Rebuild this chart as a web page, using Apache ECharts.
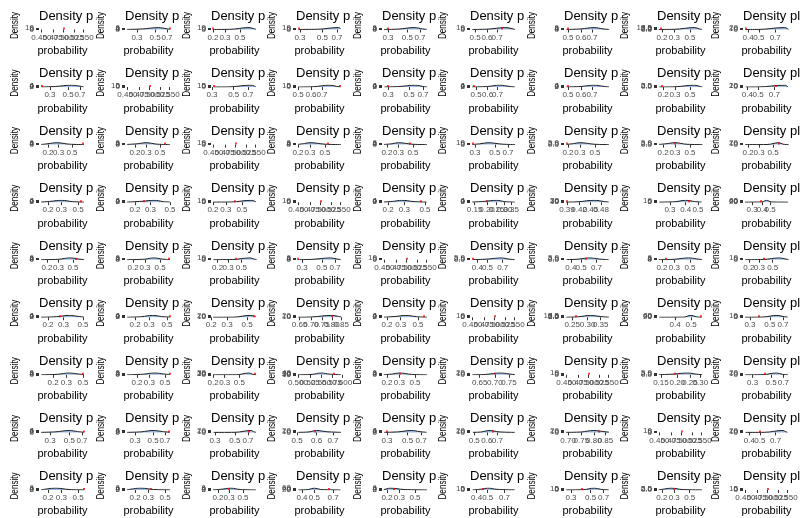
<!DOCTYPE html>
<html><head><meta charset="utf-8">
<script src="https://cdn.jsdelivr.net/npm/echarts@6.0.0/dist/echarts.min.js"></script>
<style>html,body{margin:0;padding:0;background:#fff}#c{width:800px;height:518px}</style>
</head><body><div id="c"></div><script>
// ---- tick label sets (x axis, log10 scale) ----
const ticksD = ['0.450','0.475','0.500','0.525','0.550'];
const ticksA = ['0.3','0.5','0.7'];
const ticksB = ['0.2','0.3','0.5'];
const ticksC = ['0.5','0.6','0.7'];
const ticksE = ['0.4','0.5','0.7'];
const ticksF = ['0.15','0.20','0.25','0.30','0.35'];
const ticksG = ['0.39','0.42','0.45','0.48'];
const ticksH = ['0.3','0.4','0.5'];
const ticksI = ['0.65','0.70','0.75','0.80','0.85'];
const ticksJ = ['0.25','0.30','0.35'];
const ticksK = ['0.4','0.5'];
const ticksL = ['0.500','0.525','0.550','0.575','0.600'];
const ticksM = ['0.65','0.70','0.75'];
const ticksN = ['0.15','0.20','0.25','0.30'];
const ticksO = ['0.70','0.75','0.80','0.85'];
const tickRows = ['DABAACCBE','ADACACCBE','BBDBBABBB','BBBDBFGHH','BBBADEEBB','BBBIBDJKA','BBBLBMDNA','AAACACODE','BBBEBEABD'];

// ---- y tick label sets ----
const yTicksA = ['0','5','10'];
const yTicksB = ['0','2','4','6'];
const yTicksC = ['0.0','2.5','5.0'];
const yTicksD = ['0.0','2.5','5.0','7.5','10.0'];
const yTicksE = ['0','10','20'];
const yTicksF = ['0','10','20','30'];
const yTicksG = ['0','10','20','30','40'];
const yTicksH = ['0','20','40','60'];
const yTopA = 12.6, yTopB = 6.95, yTopC = 6.1, yTopD = 11.0, yTopE = 23.1, yTopF = 33.6, yTopG = 45.2, yTopH = 69.3;
const yRows = ['abaababde','baaabbbce','bbabbacce','bbaabbfah','bbabaccba','bbeebadha','bbfgbeace','bbeebeeae','bbbhbaaca'];

// ---- x axis limits per cell ----
const xMin = [
 [0.445,0.214,0.187,0.274,0.256,0.463,0.473,0.170,0.360],
 [0.220,0.445,0.293,0.486,0.259,0.455,0.473,0.163,0.365],
 [0.142,0.139,0.445,0.187,0.168,0.264,0.175,0.163,0.166],
 [0.152,0.154,0.188,0.445,0.172,0.135,0.383,0.237,0.232],
 [0.151,0.152,0.155,0.257,0.445,0.340,0.345,0.170,0.160],
 [0.158,0.150,0.199,0.635,0.1725,0.445,0.227,0.310,0.251],
 [0.130,0.135,0.186,0.496,0.170,0.620,0.445,0.140,0.230],
 [0.224,0.226,0.271,0.495,0.265,0.470,0.685,0.445,0.350],
 [0.152,0.147,0.155,0.359,0.170,0.350,0.250,0.170,0.445]
];
const xMax = [
 [0.556,0.806,0.920,0.803,0.888,0.950,0.914,0.791,0.950],
 [0.830,0.556,0.886,0.940,0.810,0.950,0.914,0.804,0.970],
 [0.853,0.776,0.556,0.920,0.879,0.882,0.860,0.804,0.930],
 [0.638,0.527,0.829,0.556,0.552,0.400,0.510,0.558,0.880],
 [0.791,0.751,0.950,0.859,0.556,0.960,0.960,0.790,0.970],
 [0.541,0.577,0.661,0.860,0.692,0.556,0.395,0.600,0.838],
 [0.548,0.629,0.960,0.602,0.790,0.780,0.556,0.320,0.840],
 [0.778,0.853,0.905,0.769,0.850,0.930,0.875,0.556,0.950],
 [0.638,0.619,0.866,0.838,0.790,0.900,0.850,0.800,0.556]
];

// ---- red reference values ----
const redValue = [
 [0.500,0.760,0.200,0.290,0.300,0.750,0.500,0.190,0.380],
 [0.240,0.500,0.310,0.900,0.300,0.480,0.500,0.190,0.720],
 [0.750,0.600,0.500,0.550,0.450,0.280,0.190,0.300,0.620],
 [0.550,0.250,0.400,0.500,0.450,0.200,0.390,0.420,0.380],
 [0.550,0.680,0.400,0.270,0.500,0.360,0.550,0.230,0.350],
 [0.270,0.540,0.600,0.800,0.600,0.500,0.260,0.570,0.380],
 [0.500,0.580,0.850,0.585,0.300,0.700,0.500,0.190,0.420],
 [0.730,0.780,0.720,0.590,0.300,0.650,0.820,0.500,0.500],
 [0.600,0.320,0.300,0.650,0.250,0.450,0.400,0.300,0.500]
];

// ---- density curves (x positions and density values) ----
const curveX = [
 [[],[.227,.35,.55,.68,.76],[.2,.35,.68,.8,.86],[.29,.45,.72,.75,.76],[.27,.4,.6,.75,.84],[.48,.6,.8,.88,.92],[.49,.6,.72,.82,.89],[.18,.3,.58,.68,.74],[.38,.5,.85,.9,.92]],
 [[.233,.35,.55,.7,.78],[],[.31,.45,.75,.81,.84],[.5,.62,.78,.86,.91],[.275,.4,.58,.7,.77],[.47,.6,.72,.85,.92],[.49,.6,.72,.83,.89],[.175,.3,.58,.7,.76],[.385,.5,.88,.91,.93]],
 [[.155,.2,.28,.45,.79],[.15,.22,.3,.45,.72],[],[.2,.25,.3,.5,.86],[.18,.24,.3,.5,.82],[.28,.35,.42,.6,.84],[.19,.24,.3,.5,.8],[.175,.23,.3,.45,.76],[.18,.4,.62,.72,.88]],
 [[.162,.22,.3,.42,.6],[.163,.24,.33,.42,.5],[.2,.35,.68,.74,.78],[],[.18,.23,.28,.38,.52],[.142,.19,.25,.3,.38],[.388,.42,.46,.49,.503],[.247,.33,.4,.47,.535],[.245,.4,.45,.52,.83]],
 [[.163,.3,.45,.6,.74],[.163,.3,.4,.55,.7],[.17,.35,.7,.8,.9],[.27,.4,.62,.72,.81],[],[.36,.5,.68,.8,.91],[.365,.48,.6,.75,.91],[.18,.3,.48,.62,.74],[.175,.35,.65,.8,.92]],
 [[.167,.25,.35,.44,.51],[.16,.24,.33,.43,.545],[.21,.35,.55,.6,.63],[.645,.7,.8,.83,.85],[.183,.26,.35,.48,.65],[],[.233,.27,.31,.35,.385],[.32,.45,.5,.54,.58],[.265,.42,.6,.7,.79]],
 [[.139,.23,.33,.43,.51],[.145,.24,.36,.48,.59],[.2,.45,.7,.8,.9],[.5,.53,.55,.57,.597],[.18,.24,.3,.45,.74],[.627,.67,.72,.75,.772],[],[.145,.19,.24,.28,.31],[.245,.4,.58,.68,.79]],
 [[.237,.35,.5,.62,.735],[.24,.36,.5,.65,.8],[.29,.5,.76,.81,.86],[.505,.56,.6,.66,.755],[.28,.4,.55,.68,.8],[.49,.56,.62,.72,.9],[.692,.75,.8,.84,.866],[],[.37,.55,.82,.86,.9]],
 [[.162,.2,.25,.38,.6],[.157,.19,.24,.35,.585],[.168,.24,.32,.45,.8],[.375,.45,.5,.56,.8],[.18,.2,.22,.35,.74],[.37,.44,.5,.6,.86],[.265,.42,.55,.65,.8],[.18,.22,.27,.4,.75],[]]
];
const curveY = [
 [[],[.3,2,6.5,3,.5],[.2,1,12,5,1],[.3,1.5,12,8,4],[.2,1.5,6.6,2,.3],[.3,2,12,5,.5],[.2,2,6.6,2,.2],[.2,1,10.5,3,.4],[.1,1,22,10,2]],
 [[.3,2,6.6,3,.5],[],[.2,1,12,6,2],[.3,2,12,4,.5],[.3,2,6.6,2,.3],[.3,2,6.6,2,.3],[.3,2,6.6,2,.3],[.1,.8,5.8,2,.2],[.1,1,22,10,3]],
 [[.5,3,6.6,1.5,.1],[.5,3,6.6,1.5,.1],[],[.8,4,6.6,1.5,.05],[.5,3,6.6,1.2,.05],[1,6,12,3,.2],[.5,3,5.8,1,.05],[.5,3,5.8,1,.05],[.1,1,22,5,.2]],
 [[.4,3,6.6,2,.3],[.3,3,6.6,2,.5],[.2,1,12,6,2],[],[.5,3,6.6,2,.2],[.3,3,6.6,2,.2],[.5,8,32,10,2],[.3,3,12,4,.5],[.1,10,66,8,.1]],
 [[.1,1.5,6.6,2.5,.4],[.1,2,6.6,2,.5],[.1,1,12,5,1],[.1,1.5,6.6,3,.5],[],[.1,2,5.8,2,.2],[.2,2,5.8,2,.2],[.1,1.5,6.6,3,.5],[.1,1.5,12,5,1]],
 [[.2,2,6.6,3,.8],[.2,2,6.6,2.5,.5],[.1,1,22,12,3],[.3,3,22,12,3],[.3,3,6.6,2,.2],[],[.3,3,10.5,4,.5],[.1,5,66,15,1],[.1,1.5,12,5,.8]],
 [[.1,2,6.6,3,1],[.1,2,6.6,3,.8],[.1,1,32,8,1],[.5,10,43,15,3],[.3,3,6.6,1.5,.1],[.5,5,22,10,2],[],[.3,2.5,5.8,2,.5],[.1,2,22,6,.5]],
 [[.1,2,6.6,3,.5],[.1,2,6.6,3,.5],[.1,1,22,8,1],[.5,6,22,8,.5],[.2,2,6.6,2.5,.3],[.5,6,22,6,.2],[.5,5,22,10,2],[],[.1,1,22,10,2]],
 [[.5,4,6.6,1.5,.2],[.6,4,6.6,1.5,.2],[.2,3,6.6,1.5,.1],[.5,15,66,15,.2],[1,4,6.6,1.5,.1],[.5,5,12,4,.2],[.2,2,12,4,.3],[.5,3,5.8,1,.1],[]]
];

const titleText = 'Density plot of probability';
const xName = 'probability';
const yName = 'Density';

// ---- layout (positions only) ----
const FONT = "'Liberation Sans', Arial, Helvetica, sans-serif";
const CELL_H = 518 / 9;
const colLeft = [39,125,211,296,382,470,564,657,743];
const yTitleX = [15,101,187,272,358,443,532,625,716];
const titleWidth = [55.5,55.5,55.5,55.5,55.5,55.5,55.5,55.5,60];
const PANEL_W = 47;

const tickSets = {D:ticksD,A:ticksA,B:ticksB,C:ticksC,E:ticksE,F:ticksF,G:ticksG,H:ticksH,I:ticksI,J:ticksJ,K:ticksK,L:ticksL,M:ticksM,N:ticksN,O:ticksO};
const ySets = {a:yTicksA,b:yTicksB,c:yTicksC,d:yTicksD,e:yTicksE,f:yTicksF,g:yTicksG,h:yTicksH};
const yTops = {a:yTopA,b:yTopB,c:yTopC,d:yTopD,e:yTopE,f:yTopF,g:yTopG,h:yTopH};

const labelStyle = {fontSize: 8, color: '#4d4d4d', fontFamily: FONT, hideOverlap: false, showMinLabel: true, showMaxLabel: true};

const grids = [], xAxes = [], yAxes = [], series = [], titles = [], graphics = [];
for (let r = 0; r < 9; r++){
  for (let c = 0; c < 9; c++){
    const i = r * 9 + c;
    const tk = tickSets[tickRows[r][c]];
    const tv = tk.map(Number);
    const yk = yRows[r][c];
    const yl = ySets[yk];
    const yv = yl.map(Number);
    const axisY = 29.5 + r * CELL_H;
    grids.push({left: colLeft[c], top: axisY - 2, width: PANEL_W, height: 2, containLabel: false, outerBoundsMode: 'none'});
    titles.push({text: titleText, left: colLeft[c], top: r * CELL_H + 9.5, padding: 0,
      textStyle: {fontFamily: FONT, fontSize: 13, fontWeight: 'normal', color: '#000',
        width: titleWidth[c], overflow: 'truncate', ellipsis: ''}});
    graphics.push({type: 'text', x: yTitleX[c], y: r * CELL_H + 25.5, rotation: Math.PI / 2, scaleX: 0.74, silent: true,
      style: {text: yName, fontSize: 11, fontFamily: FONT, fill: '#000', align: 'center', verticalAlign: 'middle'}});

    // main x axis: ticks + name
    const xi = xAxes.length;
    xAxes.push({gridIndex: i, type: 'log', logBase: 10, min: xMin[r][c], max: xMax[r][c], position: 'bottom', offset: 0,
      axisLine: {show: false}, splitLine: {show: false}, minorTick: {show: false},
      axisTick: {show: true, length: 3, lineStyle: {color: '#333', width: 1}, customValues: tv},
      axisLabel: {show: false},
      name: xName, nameLocation: 'middle', nameGap: 16,
      nameTextStyle: {fontSize: 11, color: '#000', fontFamily: FONT}});
    // one label per helper axis, so overlapping labels are all drawn (as in the reference)
    tv.forEach((v, k) => {
      xAxes.push({gridIndex: i, type: 'log', logBase: 10, min: xMin[r][c], max: xMax[r][c], position: 'bottom', offset: 0,
        axisLine: {show: false}, splitLine: {show: false}, minorTick: {show: false}, axisTick: {show: false},
        axisLabel: Object.assign({show: true, customValues: [v], formatter: () => tk[k], margin: 4}, labelStyle)});
    });
    const yi = yAxes.length;
    yAxes.push({gridIndex: i, type: 'value', min: 0, max: yTops[yk], position: 'left', offset: 0,
      axisLine: {show: false}, splitLine: {show: false},
      axisTick: {show: true, length: 3, lineStyle: {color: '#333', width: 1}, customValues: yv},
      axisLabel: {show: false}});
    yv.forEach((v, k) => {
      yAxes.push({gridIndex: i, type: 'value', min: 0, max: yTops[yk], position: 'left', offset: 0,
        axisLine: {show: false}, splitLine: {show: false}, axisTick: {show: false},
        axisLabel: Object.assign({show: true, customValues: [v], formatter: () => yl[k], margin: 5}, labelStyle)});
    });

    const pts = curveX[r][c].map((x, k) => [x, curveY[r][c][k]]);
    series.push({type: 'line', xAxisIndex: xi, yAxisIndex: yi, data: pts, showSymbol: false, symbol: 'none',
      smooth: 0.4, silent: true, animation: false,
      lineStyle: {color: '#1f1f1f', width: 1}, areaStyle: {color: '#5b8fd4', opacity: 0.6},
      markLine: {silent: true, animation: false, symbol: ['none', 'none'], label: {show: false},
        lineStyle: {color: '#ff0000', width: 1.5, type: 'solid'}, data: [{xAxis: redValue[r][c]}]}});
  }
}

const chart = echarts.init(document.getElementById('c'), null, {renderer: 'canvas'});
chart.setOption({animation: false, backgroundColor: '#fff', title: titles, grid: grids,
  xAxis: xAxes, yAxis: yAxes, series: series, graphic: graphics});
</script></body></html>
